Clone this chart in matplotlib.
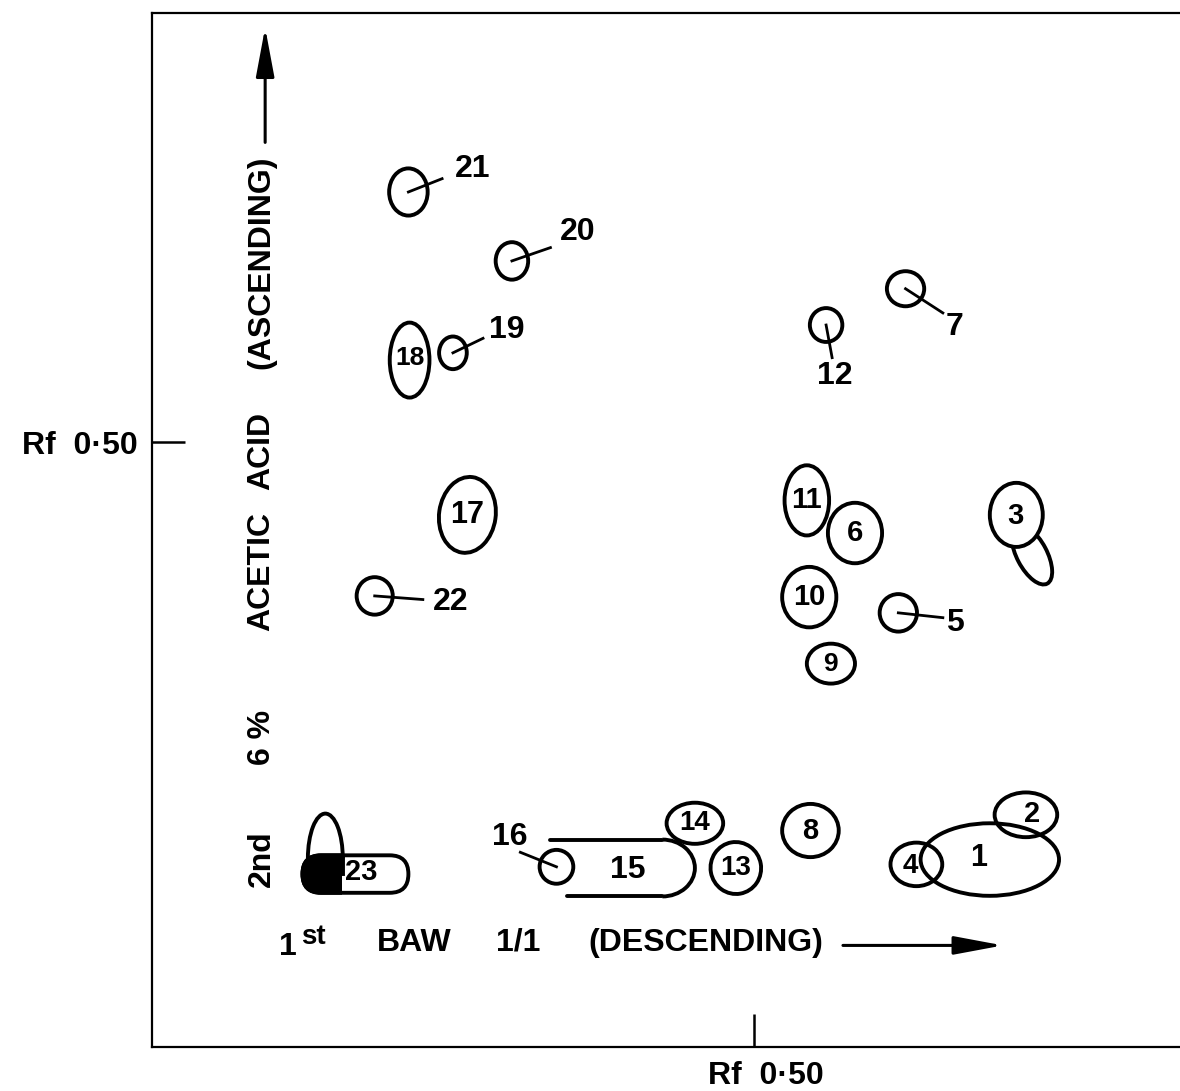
import matplotlib
matplotlib.use("Agg")
import matplotlib.pyplot as plt
from matplotlib.patches import Ellipse, Arc, FancyBboxPatch, Rectangle
from matplotlib.transforms import ScaledTranslation

plt.rcParams['font.family'] = ['Liberation Sans', 'DejaVu Sans']
plt.rcParams['font.weight'] = 'bold'

# ---------------- data (Rf values) ----------------
# spots drawn as ellipses: id, Rf (1st dir, BAW), Rf (2nd dir, acetic acid), width, height, tilt
spot_ids = ['1', '2', '3', '4', '5', '6', '7', '8', '9', '10', '11', '12',
            '13', '14', '16', '17', '18', '19', '20', '21', '22']
spot_x = [0.696, 0.726, 0.718, 0.635, 0.620, 0.584, 0.626, 0.547, 0.564, 0.546, 0.544, 0.560,
          0.485, 0.451, 0.336, 0.262, 0.214, 0.250, 0.299, 0.213, 0.185]
spot_y = [0.155, 0.192, 0.440, 0.151, 0.359, 0.425, 0.627, 0.179, 0.317, 0.372, 0.452, 0.597,
          0.148, 0.185, 0.149, 0.440, 0.568, 0.574, 0.650, 0.707, 0.373]
spot_w = [0.115, 0.052, 0.044, 0.043, 0.031, 0.045, 0.031, 0.047, 0.040, 0.045, 0.037, 0.027,
          0.042, 0.047, 0.028, 0.047, 0.033, 0.023, 0.027, 0.032, 0.030]
spot_h = [0.060, 0.037, 0.053, 0.036, 0.031, 0.050, 0.029, 0.044, 0.033, 0.050, 0.058, 0.028,
          0.043, 0.034, 0.028, 0.063, 0.062, 0.027, 0.031, 0.039, 0.031]
spot_tilt = [0, 0, 0, 0, 0, 0, 0, 0, 0, 0, 0, 0,
             10, 0, 0, -8, 0, 0, 0, 0, 0]

# labels written inside the spot
inner_ids = ['1', '2', '3', '4', '6', '8', '9', '10', '11', '13', '14', '17', '18']
inner_x = [0.687, 0.731, 0.717, 0.630, 0.584, 0.547, 0.564, 0.546, 0.544, 0.485, 0.451, 0.262, 0.214]
inner_y = [0.156, 0.193, 0.439, 0.150, 0.425, 0.179, 0.317, 0.372, 0.452, 0.148, 0.185, 0.440, 0.570]
inner_size = [22, 21, 21, 20, 21, 21, 19, 21, 21, 20, 20, 22, 19]

# labels with a leader line
lead_ids = ['5', '7', '12', '16', '19', '20', '21', '22']
lead_end_x = [0.657, 0.657, 0.565, 0.306, 0.275, 0.331, 0.241, 0.225]
lead_end_y = [0.355, 0.607, 0.570, 0.161, 0.586, 0.661, 0.718, 0.370]
lead_lab_x = [0.667, 0.667, 0.567, 0.297, 0.295, 0.354, 0.266, 0.248]
lead_lab_y = [0.351, 0.595, 0.555, 0.174, 0.593, 0.674, 0.726, 0.368]

# spot 3 tail
tail3 = dict(x=0.731, y=0.407, w=0.054, h=0.025, tilt=-62)

# spot 15: streak open at the origin side
s15_left_top, s15_left_bot, s15_right, s15_y, s15_h, s15_r = 0.331, 0.345, 0.451, 0.148, 0.047, 0.027
s15_label = (0.395, 0.146)

# spot 23: capsule, dark left part, arch above
s23_left, s23_right, s23_y, s23_h, s23_dark_to = 0.125, 0.213, 0.143, 0.031, 0.158
s23_arch_x, s23_arch_base, s23_arch_w, s23_arch_h = 0.144, 0.156, 0.029, 0.037
s23_label = (0.174, 0.145)

tick_label = 'Rf  0\u00b750'
xmax, ymax = 0.854, 0.855

# ---------------- figure ----------------
fig = plt.figure(figsize=(11.8, 10.91), dpi=100)
ax = fig.add_axes([152 / 1180, 44 / 1091, 1 - 152 / 1180, (1047 - 13) / 1091])
ax.set_xlim(0, xmax)
ax.set_ylim(0, ymax)
for s in ['left', 'bottom', 'top']:
    ax.spines[s].set_linewidth(1.6)
ax.spines['right'].set_visible(False)

ax.set_xticks([0.5])
ax.set_yticks([0.5])
ax.set_xticklabels([tick_label])
ax.set_yticklabels([tick_label])
ax.tick_params(direction='in', length=24, width=1.8, labelsize=23, pad=10)
off = ScaledTranslation(12 / 100, 0, fig.dpi_scale_trans)
for lab in ax.get_xticklabels():
    lab.set_transform(lab.get_transform() + off)

LW = 2.8
K = 'black'

# tail of 3 (under main blob)
ax.add_patch(Ellipse((tail3['x'], tail3['y']), tail3['w'], tail3['h'], angle=tail3['tilt'],
                     fc='white', ec=K, lw=LW, zorder=2))

for sid, x, y, w, h, t in zip(spot_ids, spot_x, spot_y, spot_w, spot_h, spot_tilt):
    fc = 'white' if sid == '3' else 'none'
    ax.add_patch(Ellipse((x, y), w, h, angle=t, fc=fc, ec=K, lw=LW, zorder=3))

for sid, x, y, fs in zip(inner_ids, inner_x, inner_y, inner_size):
    ax.text(x, y, sid, ha='center', va='center', fontsize=fs, zorder=5)

for sid, ex, ey, lx, ly in zip(lead_ids, lead_end_x, lead_end_y, lead_lab_x, lead_lab_y):
    i = spot_ids.index(sid)
    ax.plot([spot_x[i], ex], [spot_y[i], ey], color=K, lw=2.0, zorder=4)
    ax.text(lx, ly, sid, ha='center', va='center', fontsize=23, zorder=5)

# spot 15
top = s15_y + s15_h / 2
bot = s15_y - s15_h / 2
ax.plot([s15_left_top, s15_right - s15_r], [top, top], color=K, lw=LW, solid_capstyle='round')
ax.plot([s15_left_bot, s15_right - s15_r], [bot, bot], color=K, lw=LW, solid_capstyle='round')
ax.add_patch(Arc((s15_right - s15_r, s15_y), 2 * s15_r, s15_h, theta1=-90, theta2=90,
                 ec=K, lw=LW))
ax.text(s15_label[0], s15_label[1], '15', ha='center', va='center', fontsize=23)

# spot 23
cap = FancyBboxPatch((s23_left, s23_y - s23_h / 2), s23_right - s23_left, s23_h,
                     boxstyle='round,pad=0,rounding_size=%f' % (s23_h / 2),
                     fc='none', ec=K, lw=LW, zorder=3)
ax.add_patch(cap)
dark = FancyBboxPatch((s23_left, s23_y - s23_h / 2), s23_right - s23_left, s23_h,
                      boxstyle='round,pad=0,rounding_size=%f' % (s23_h / 2),
                      fc=K, ec=K, lw=LW, zorder=3)
ax.add_patch(dark)
clip = Rectangle((0, 0), s23_dark_to, 1, transform=ax.transData)
dark.set_clip_path(clip)
ax.add_patch(Arc((s23_arch_x, s23_arch_base), s23_arch_w, 2 * s23_arch_h, theta1=0, theta2=180,
                 ec=K, lw=LW))
ax.plot([s23_arch_x - s23_arch_w / 2] * 2, [s23_arch_base, s23_y], color=K, lw=LW)
ax.plot([s23_arch_x + s23_arch_w / 2] * 2, [s23_arch_base, s23_y], color=K, lw=LW)
ax.text(s23_label[0], s23_label[1], '23', ha='center', va='center', fontsize=21, zorder=5)

# ---------------- direction labels ----------------
FS = 23
vx = 0.091
for word, yy in [('(ASCENDING)', 0.649), ('ACID', 0.493), ('ACETIC', 0.393),
                 ('6 %', 0.256), ('2nd', 0.156)]:
    ax.text(vx, yy, word, rotation=90, ha='center', va='center', fontsize=FS)
ax.annotate('', xy=(0.094, 0.843), xytext=(0.094, 0.748),
            arrowprops=dict(arrowstyle='-|>,head_length=1.5,head_width=0.28', color=K,
                            lw=2.2, mutation_scale=20, shrinkA=0, shrinkB=0))

hy = 0.086
ax.text(0.113, hy - 0.003, '1', ha='center', va='center', fontsize=FS)
ax.text(0.134, hy + 0.005, 'st', ha='center', va='center', fontsize=20)
for word, xx in [('BAW', 0.218), ('1/1', 0.304), ('(DESCENDING)', 0.460)]:
    ax.text(xx, hy, word, ha='center', va='center', fontsize=FS)
ax.annotate('', xy=(0.707, 0.084), xytext=(0.574, 0.084),
            arrowprops=dict(arrowstyle='-|>,head_length=1.5,head_width=0.28', color=K,
                            lw=2.2, mutation_scale=20, shrinkA=0, shrinkB=0))

fig.savefig('out.png', dpi=100)
